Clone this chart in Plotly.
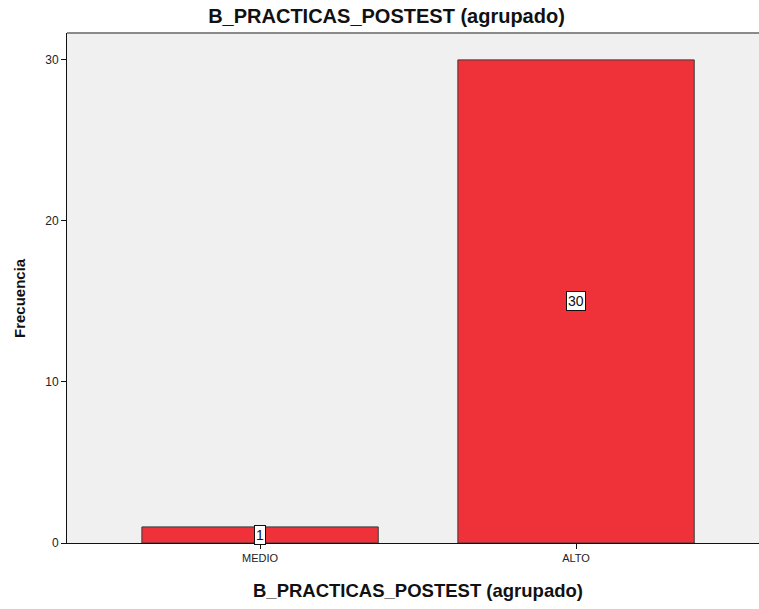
import plotly.graph_objects as go

categories = ["MEDIO", "ALTO"]
frecuencia = [1, 30]
y_ticks = [0, 10, 20, 30]

FONT = "Liberation Sans, Arial, sans-serif"

fig = go.Figure()
fig.add_trace(go.Bar(
    x=categories, y=frecuencia,
    width=0.748,
    marker=dict(color="#EF3139", line=dict(color="#3a3a3a", width=1)),
    hoverinfo="skip",
))

for c, v in zip(categories, frecuencia):
    fig.add_annotation(
        x=c, y=v / 2, xref="x", yref="y", text=str(v), showarrow=False,
        font=dict(family=FONT, size=14, color="#111111"),
        bgcolor="white", bordercolor="#111111", borderwidth=1, borderpad=1,
    )

fig.update_layout(
    width=759, height=609,
    margin=dict(l=67, r=0, t=33, b=66),
    paper_bgcolor="white", plot_bgcolor="#F0F0F0",
    showlegend=False,
    title=dict(text="<b>B_PRACTICAS_POSTEST (agrupado)</b>", x=386.5 / 759, xanchor="center",
               y=1 - 16 / 609, yanchor="middle", font=dict(family=FONT, size=20, color="#111111")),
    font=dict(family=FONT, color="#222222"),
)
fig.update_xaxes(
    range=[-0.611, 1.579], showgrid=False, zeroline=False,
    showline=True, linecolor="#111111", linewidth=1,
    ticks="outside", ticklen=5, tickcolor="#111111",
    tickfont=dict(family=FONT, size=11, color="#222222"),
)
fig.update_yaxes(
    range=[0, 31.67], showgrid=False, zeroline=False,
    tickvals=y_ticks, showline=True, linecolor="#111111", linewidth=1,
    ticks="outside", ticklen=5, tickcolor="#111111",
    tickfont=dict(family=FONT, size=12, color="#222222"),
)
fig.add_annotation(
    text="<b>B_PRACTICAS_POSTEST (agrupado)</b>", xref="paper", yref="paper",
    x=(418 - 67) / 692, y=-(590 - 543) / 510, xanchor="center", yanchor="middle",
    showarrow=False, font=dict(family=FONT, size=18.5, color="#111111"),
)
fig.add_annotation(
    text="<b>Frecuencia</b>", xref="paper", yref="paper",
    x=-(67 - 20) / 692, y=(543 - 298) / 510, xanchor="center", yanchor="middle",
    textangle=-90, showarrow=False, font=dict(family=FONT, size=15, color="#111111"),
)
fig.add_shape(type="line", xref="paper", yref="paper", x0=0, x1=1, y0=1, y1=1,
              line=dict(color="#8a8a8a", width=2))

fig.write_html("out.html")
